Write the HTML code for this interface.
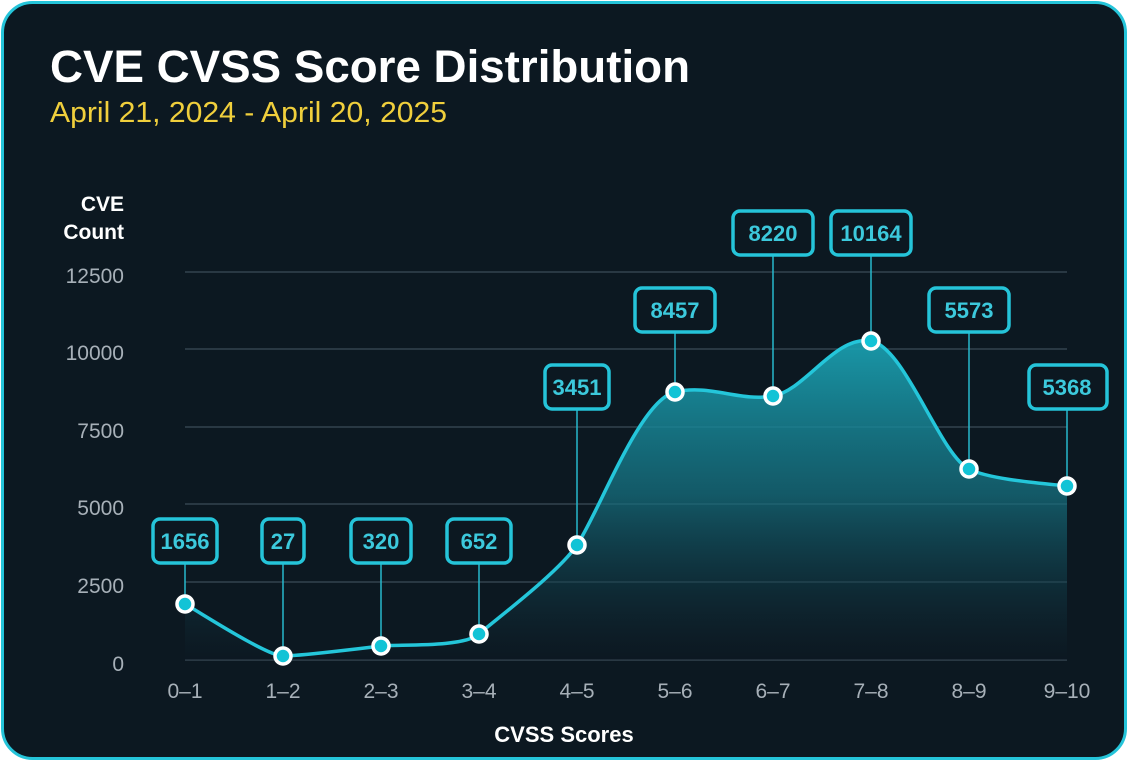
<!DOCTYPE html>
<html><head><style>
html,body{margin:0;padding:0;background:#fff;}
body{width:1128px;height:761px;overflow:hidden;font-family:"Liberation Sans",sans-serif;}
</style></head><body>
<svg width="1128" height="761" xmlns="http://www.w3.org/2000/svg">
<defs>
<linearGradient id="g" x1="0" y1="330" x2="0" y2="660" gradientUnits="userSpaceOnUse">
<stop offset="0" stop-color="#1aa3b4" stop-opacity="0.95"/>
<stop offset="0.5" stop-color="#167585" stop-opacity="0.7"/>
<stop offset="1" stop-color="#0d1822" stop-opacity="0.3"/>
</linearGradient>
</defs>
<rect x="2.5" y="2.5" width="1123" height="756" rx="30" fill="#0c1821" stroke="#25c4d9" stroke-width="3"/>
<text x="50" y="82" fill="#ffffff" font-size="45" font-weight="bold" textLength="640" lengthAdjust="spacingAndGlyphs">CVE CVSS Score Distribution</text>
<text x="50" y="122" fill="#f0cf3c" font-size="29" textLength="397" lengthAdjust="spacingAndGlyphs">April 21, 2024 - April 20, 2025</text>
<text x="124" y="211" fill="#fff" font-size="21" font-weight="bold" text-anchor="end">CVE</text>
<text x="124" y="239" fill="#fff" font-size="21" font-weight="bold" text-anchor="end">Count</text>
<g stroke="#33434f" stroke-width="1.5">
<line x1="185" y1="272" x2="1067" y2="272"/><line x1="185" y1="349" x2="1067" y2="349"/>
<line x1="185" y1="427" x2="1067" y2="427"/><line x1="185" y1="504" x2="1067" y2="504"/>
<line x1="185" y1="582" x2="1067" y2="582"/><line x1="185" y1="660" x2="1067" y2="660"/>
</g>
<g fill="#a7b0b8" font-size="21" text-anchor="end">
<text x="124" y="283">12500</text><text x="124" y="360">10000</text><text x="124" y="438">7500</text>
<text x="124" y="515">5000</text><text x="124" y="593">2500</text><text x="124" y="671">0</text>
</g>
<g fill="#a7b0b8" font-size="21" text-anchor="middle">
<text x="185" y="698">0–1</text><text x="283" y="698">1–2</text><text x="381" y="698">2–3</text><text x="479" y="698">3–4</text><text x="577" y="698">4–5</text><text x="675" y="698">5–6</text><text x="773" y="698">6–7</text><text x="871" y="698">7–8</text><text x="969" y="698">8–9</text><text x="1067" y="698">9–10</text>
</g>
<text x="564" y="742" fill="#fff" font-size="22" font-weight="bold" text-anchor="middle">CVSS Scores</text>
<path d="M185,604 C201,613 267,656 283,656 C299,656 365,648 381,646 C397,644 463,648 479,634 C495,620 558,573 577,545 C600,510 640,400 675,392 C710,384 740,402 773,396 C806,390 835,335 871,341 C905,347 940,455 969,469 C990,480 1050,484 1067,486 L1067,660 L185,660 Z" fill="url(#g)"/>
<path d="M185,604 C201,613 267,656 283,656 C299,656 365,648 381,646 C397,644 463,648 479,634 C495,620 558,573 577,545 C600,510 640,400 675,392 C710,384 740,402 773,396 C806,390 835,335 871,341 C905,347 940,455 969,469 C990,480 1050,484 1067,486" fill="none" stroke="#24c6da" stroke-width="3.5"/>
<g stroke="#26b8cc" stroke-width="1.5">
<line x1="185" y1="564" x2="185" y2="604"/><line x1="283" y1="564" x2="283" y2="656"/>
<line x1="381" y1="564" x2="381" y2="646"/><line x1="479" y1="564" x2="479" y2="634"/>
<line x1="577" y1="410" x2="577" y2="545"/><line x1="675" y1="333" x2="675" y2="392"/>
<line x1="773" y1="256" x2="773" y2="396"/><line x1="871" y1="256" x2="871" y2="341"/>
<line x1="969" y1="333" x2="969" y2="469"/><line x1="1067" y1="410" x2="1067" y2="486"/>
</g>
<g fill="#0c1821" stroke="#25c4d9" stroke-width="3.5">
<rect x="153" y="519" width="64" height="44" rx="7"/>
<rect x="262" y="519" width="42" height="44" rx="7"/>
<rect x="351" y="519" width="60" height="44" rx="7"/>
<rect x="447" y="519" width="64" height="44" rx="7"/>
<rect x="545" y="365" width="64" height="44" rx="7"/>
<rect x="635" y="288" width="80" height="44" rx="7"/>
<rect x="733" y="211" width="80" height="44" rx="7"/>
<rect x="831" y="211" width="80" height="44" rx="7"/>
<rect x="929" y="288" width="80" height="44" rx="7"/>
<rect x="1029" y="365" width="78" height="44" rx="7"/>
</g>
<g fill="#3cc9dc" font-size="22" font-weight="bold" text-anchor="middle">
<text x="185" y="549">1656</text><text x="283" y="549">27</text><text x="381" y="549">320</text><text x="479" y="549">652</text>
<text x="577" y="395">3451</text><text x="675" y="318">8457</text><text x="773" y="241">8220</text><text x="871" y="241">10164</text>
<text x="969" y="318">5573</text><text x="1067" y="395">5368</text>
</g>
<g fill="#12c3d6" stroke="#ffffff" stroke-width="3.5">
<circle cx="185" cy="604" r="8"/><circle cx="283" cy="656" r="8"/><circle cx="381" cy="646" r="8"/>
<circle cx="479" cy="634" r="8"/><circle cx="577" cy="545" r="8"/><circle cx="675" cy="392" r="8"/>
<circle cx="773" cy="396" r="8"/><circle cx="871" cy="341" r="8"/><circle cx="969" cy="469" r="8"/>
<circle cx="1067" cy="486" r="8"/>
</g>
</svg>
</body></html>
